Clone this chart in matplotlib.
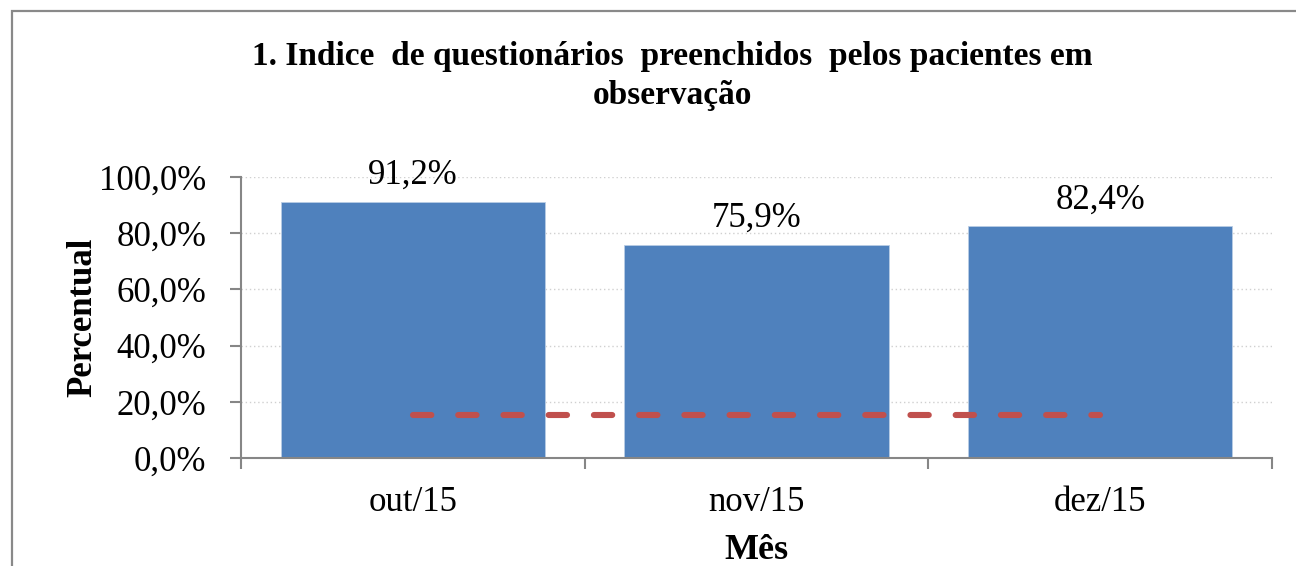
import matplotlib.pyplot as plt
from matplotlib.patches import Rectangle
from matplotlib.ticker import FuncFormatter

# dados
meses = ["out/15", "nov/15", "dez/15"]
percentual = [91.2, 75.9, 82.4]
meta = [15.4, 15.4, 15.4]
rotulos = ["91,2%", "75,9%", "82,4%"]

plt.rcParams['font.family'] = ['Liberation Serif', 'DejaVu Serif']

fig = plt.figure(figsize=(12.96, 5.66), dpi=100)
ax = fig.add_axes([241/1296, 1 - 458/566, (1272 - 241)/1296, (458 - 177)/566])

# borda do grafico (so aparecem lado esquerdo e topo)
fig.patches.append(Rectangle((11.5/1296, -0.1), 1.2, 1 - 10.5/566 + 0.1, transform=fig.transFigure,
                             fill=False, edgecolor='#898989', linewidth=1.6, zorder=0))

x = range(len(meses))
ax.bar(x, percentual, width=0.77, color='#4F81BD', edgecolor='#B9CDE5', linewidth=0.6, zorder=2)
ax.plot(x, meta, color='#C0504D', linewidth=4.4, linestyle=(0, (3.0, 4.4)),
        dash_capstyle='round', zorder=3)

for i, v in enumerate(percentual):
    ax.text(i, v + 3.5, rotulos[i], ha='center', va='bottom', fontsize=25)

ax.set_xlim(-0.5, 2.5)
ax.set_ylim(0, 100)
ax.set_yticks([0, 20, 40, 60, 80, 100])
ax.yaxis.set_major_formatter(FuncFormatter(lambda v, p: ('%.1f%%' % v).replace('.', ',')))
ax.set_xticks([-0.5, 0.5, 1.5, 2.5])
ax.set_xticklabels([])
ax.set_xticks(list(x), minor=True)
ax.set_xticklabels(meses, minor=True)
ax.tick_params(axis='x', which='minor', length=0, pad=20, labelsize=25)
ax.tick_params(axis='x', which='major', length=8, width=1.5, color='#868686')
ax.tick_params(axis='y', length=8, width=1.5, color='#868686', labelsize=25, pad=17)

ax.grid(axis='y', linestyle=(0, (1, 2)), color='#D0D0D0', linewidth=1, zorder=0)
for s in ['top', 'right']:
    ax.spines[s].set_visible(False)
for s in ['left', 'bottom']:
    ax.spines[s].set_color('#868686')
    ax.spines[s].set_linewidth(1.5)

ax.set_ylabel("Percentual", fontsize=25, fontweight='bold', labelpad=0)
ax.set_xlabel("Mês", fontsize=26, fontweight='bold', labelpad=11)

fig.text(672/1296, 1 - 76/566, "1. Indice  de questionários  preenchidos  pelos pacientes em\nobservação",
         ha='center', va='center', fontsize=24, fontweight='bold', linespacing=1.3)

fig.savefig("out.png", dpi=100)
